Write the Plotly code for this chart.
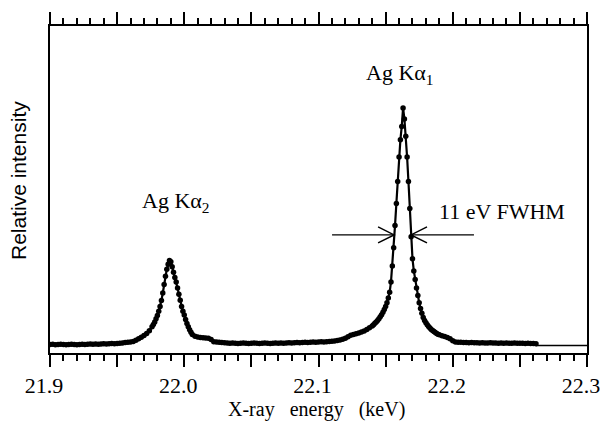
import plotly.graph_objects as go

# ---------------- data ----------------
# energies in eV, intensities relative to the Ag Ka1 maximum
energy_a = list(range(21900, 21976, 2))
inten_a = [0.035, 0.036, 0.034, 0.035, 0.036, 0.035, 0.034, 0.035, 0.036, 0.035,
           0.034, 0.035, 0.036, 0.035, 0.036, 0.037, 0.036, 0.037, 0.036, 0.037,
           0.038, 0.037, 0.038, 0.039, 0.038, 0.039, 0.040, 0.041, 0.043, 0.044,
           0.045, 0.047, 0.052, 0.058, 0.064, 0.071, 0.080, 0.091]

energy_b = list(range(21976, 22007, 1))
inten_b = [0.107, 0.116, 0.127, 0.140, 0.153, 0.170, 0.190, 0.214, 0.245, 0.280,
           0.313, 0.342, 0.362, 0.378, 0.372, 0.352, 0.330, 0.308, 0.290, 0.265,
           0.240, 0.215, 0.190, 0.170, 0.155, 0.137, 0.120, 0.107, 0.095, 0.085,
           0.076]

energy_c = list(range(22008, 22140, 2))
inten_c = [0.068, 0.065, 0.063, 0.062, 0.061, 0.060, 0.055, 0.046, 0.045, 0.044,
           0.043, 0.042, 0.041, 0.040, 0.041, 0.040, 0.039, 0.040, 0.041, 0.040,
           0.039, 0.040, 0.041, 0.040, 0.039, 0.040, 0.041, 0.040, 0.039, 0.040,
           0.041, 0.040, 0.041, 0.040, 0.041, 0.042, 0.041, 0.042, 0.043, 0.042,
           0.043, 0.044, 0.043, 0.044, 0.045, 0.044, 0.045, 0.046, 0.045, 0.046,
           0.047, 0.048, 0.049, 0.051, 0.053, 0.056, 0.060, 0.066, 0.072, 0.076,
           0.079, 0.082, 0.086, 0.090, 0.096, 0.103]

energy_d = list(range(22140, 22191, 1))
inten_d = [0.110, 0.115, 0.121, 0.127, 0.133, 0.140, 0.148, 0.156, 0.166, 0.178,
           0.190, 0.205, 0.225, 0.248, 0.290, 0.355, 0.430, 0.520, 0.610, 0.700,
           0.800, 0.870, 0.925, 1.000, 0.955, 0.885, 0.800, 0.700, 0.590, 0.475,
           0.385, 0.335, 0.300, 0.265, 0.235, 0.205, 0.182, 0.162, 0.145, 0.133,
           0.123, 0.115, 0.108, 0.102, 0.096, 0.092, 0.088, 0.084, 0.080, 0.077,
           0.074]

energy_e = list(range(22192, 22263, 2))
inten_e = [0.070, 0.067, 0.063, 0.058, 0.050, 0.045, 0.044, 0.044, 0.043, 0.043,
           0.042, 0.043, 0.042, 0.042, 0.041, 0.042, 0.041, 0.041, 0.042, 0.041,
           0.041, 0.040, 0.041, 0.040, 0.041, 0.040, 0.040, 0.041, 0.040, 0.040,
           0.040, 0.039, 0.040, 0.039, 0.039, 0.038]

tail_energy = [22262, 22300]
tail_inten = [0.031, 0.031]

tick_vals = [21.90, 21.95, 22.00, 22.05, 22.10, 22.15, 22.20, 22.25, 22.30]
tick_text = ["21.9", "", "22.0", "", "22.1", "", "22.2", "", "22.3"]

peak_labels = ["Ag K\u03b1<sub>1</sub>", "Ag K\u03b1<sub>2</sub>", "11 eV FWHM"]
peak_label_x = [22.1607, 21.9939, 22.2367]
peak_label_y = [1.139, 0.616, 0.576]

fwhm_level = 0.482
fwhm_left = [22.1101, 22.1563]   # tail, head
fwhm_right = [22.2158, 22.1689]  # tail, head

# ---------------- figure ----------------
energy = energy_a + energy_b + energy_c + energy_d + energy_e
inten = inten_a + inten_b + inten_c + inten_d + inten_e
x_kev = [e / 1000.0 for e in energy]

serif = "Liberation Serif, Times New Roman, serif"
sans = "Liberation Sans, Arial, sans-serif"

fig = go.Figure()
fig.add_trace(go.Scatter(
    x=x_kev, y=inten, mode="lines+markers",
    line=dict(color="black", width=2.2),
    marker=dict(color="black", size=5.5),
    showlegend=False, hoverinfo="skip"))
fig.add_trace(go.Scatter(
    x=[e / 1000.0 for e in tail_energy], y=tail_inten, mode="lines",
    xaxis="x2",
    line=dict(color="black", width=1.5),
    showlegend=False, hoverinfo="skip"))

annotations = []
for t, xx, yy in zip(peak_labels, peak_label_x, peak_label_y):
    annotations.append(dict(x=xx, y=yy, xref="x", yref="y", text=t,
                            showarrow=False, xanchor="center", yanchor="middle",
                            font=dict(family=serif, size=22, color="black")))
annotations.append(dict(x=0.497, y=-0.172, xref="paper", yref="paper",
                        text="X-ray\u00a0\u00a0 energy\u00a0\u00a0 (keV)", showarrow=False,
                        xanchor="center", yanchor="middle",
                        font=dict(family=serif, size=20, color="black")))
annotations.append(dict(x=-0.0596, y=0.529, xref="paper", yref="paper",
                        text="Relative intensity", showarrow=False, textangle=-90,
                        xanchor="center", yanchor="middle",
                        font=dict(family=sans, size=21, color="black")))

# FWHM arrows: shaft in data coordinates, open "V" head sized in pixels
shapes = []
for tail, head in (fwhm_left, fwhm_right):
    shapes.append(dict(type="line", xref="x", yref="y",
                       x0=tail, x1=head, y0=fwhm_level, y1=fwhm_level,
                       line=dict(color="black", width=1.4)))
    sgn = -1 if head > tail else 1
    shapes.append(dict(type="path", xref="x", yref="y",
                       xsizemode="pixel", ysizemode="pixel",
                       xanchor=head, yanchor=fwhm_level,
                       path="M %d,8 L 0,0 L %d,-8" % (16 * sgn, 16 * sgn),
                       line=dict(color="black", width=1.5)))

tick_common = dict(range=[21.9, 22.3], showline=True, linewidth=2, linecolor="black",
                   ticks="outside", ticklen=12, tickwidth=1.5, tickcolor="black",
                   tickvals=tick_vals, automargin=False,
                   minor=dict(dtick=0.01, tick0=21.9, ticks="outside", ticklen=6,
                              tickwidth=1.5, tickcolor="black"),
                   showgrid=False, zeroline=False)

fig.update_layout(
    width=602, height=421,
    margin=dict(l=50, r=15, t=26, b=68, autoexpand=False),
    paper_bgcolor="white", plot_bgcolor="white",
    annotations=annotations, shapes=shapes,
    xaxis=dict(**tick_common, ticktext=tick_text, ticklabeloverflow="allow",
               ticklabelshift=-6,
               tickfont=dict(family=serif, size=22, color="black")),
    xaxis2=dict(**tick_common, overlaying="x", side="top", showticklabels=False),
    yaxis=dict(range=[0, 1.3347], showline=True, linewidth=2, linecolor="black",
               mirror=True, ticks="", showticklabels=False, automargin=False,
               showgrid=False, zeroline=False),
)

fig.write_html("out.html")
